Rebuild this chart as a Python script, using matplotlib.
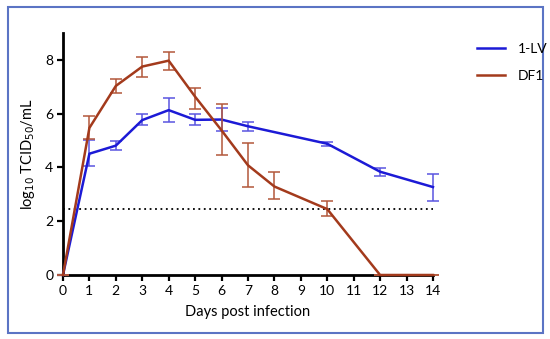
import matplotlib
matplotlib.use("Agg")
import matplotlib.pyplot as plt
from matplotlib.patches import Rectangle
from matplotlib.lines import Line2D

days_lv = [0, 1, 2, 3, 4, 5, 6, 7, 10, 12, 14]
lv_mean = [0, 4.51, 4.81, 5.76, 6.13, 5.77, 5.78, 5.53, 4.88, 3.84, 3.27]
lv_err_lo = [0, 0.47, 0.15, 0.20, 0.43, 0.21, 0.41, 0.17, 0.08, 0.15, 0.50]
lv_err_hi = [0, 0.50, 0.16, 0.21, 0.45, 0.21, 0.43, 0.15, 0.08, 0.14, 0.47]

days_df = [0, 1, 2, 3, 4, 5, 6, 7, 8, 10, 12, 14]
df_mean = [0, 5.47, 7.03, 7.75, 7.97, 6.63, 5.38, 4.08, 3.29, 2.45, 0, 0]
df_err_lo = [0, 0.43, 0.25, 0.37, 0.35, 0.44, 0.93, 0.82, 0.47, 0.24, 0, 0]
df_err_hi = [0, 0.44, 0.25, 0.37, 0.33, 0.34, 0.99, 0.83, 0.53, 0.30, 0, 0]

threshold = 2.45
xticks = list(range(0, 15))
yticks = [0, 2, 4, 6, 8]

plt.rcParams['font.family'] = ['Lato', 'DejaVu Sans']

fig = plt.figure(figsize=(5.5, 3.39), dpi=100)
ax = fig.add_axes([0.1145, 0.1888, 0.6727, 0.714])

blue = '#1c1ad6'
red = '#a33a1c'

ax.plot([0, 14], [threshold, threshold], color='black', linestyle=(0, (1, 2.0)), lw=1.3, zorder=1)

ax.errorbar(days_lv, lv_mean, yerr=[lv_err_lo, lv_err_hi], color=blue, lw=1.8,
            ecolor='#5a55e0', elinewidth=1.1, capsize=4, capthick=1.1, label='1-LV',
            zorder=3, clip_on=False)
ax.errorbar(days_df, df_mean, yerr=[df_err_lo, df_err_hi], color=red, lw=1.8,
            ecolor='#b3573a', elinewidth=1.1, capsize=4, capthick=1.1, label='DF1',
            zorder=4, clip_on=False)

ax.set_xlim(0, 14)
ax.set_ylim(0, 9)
ax.set_xticks(xticks)
ax.set_yticks(yticks)
ax.spines['top'].set_visible(False)
ax.spines['right'].set_visible(False)
ax.spines['left'].set_linewidth(2)
ax.spines['bottom'].set_linewidth(2)
ax.tick_params(axis='both', direction='out', length=4, width=1.6, labelsize=10, pad=3)
ax.set_xlabel('Days post infection', fontsize=10.5, labelpad=6)
ax.set_ylabel('log$_{10}$ TCID$_{50}$/mL', fontsize=10.5, labelpad=6)

h = [Line2D([], [], color=blue, lw=1.8), Line2D([], [], color=red, lw=1.8)]
fig.legend(h, ['1-LV', 'DF1'], loc='upper left', bbox_to_anchor=(0.845, 0.91),
           frameon=False, fontsize=10, handlelength=2.0, labelspacing=1.1, handletextpad=0.9)

fig.patches.append(Rectangle((8/550, 1 - 333/339), (543-8)/550, (333-7)/339,
                             transform=fig.transFigure, fill=False,
                             edgecolor='#5b74c4', lw=1.5))

fig.savefig('out.png', dpi=100)
